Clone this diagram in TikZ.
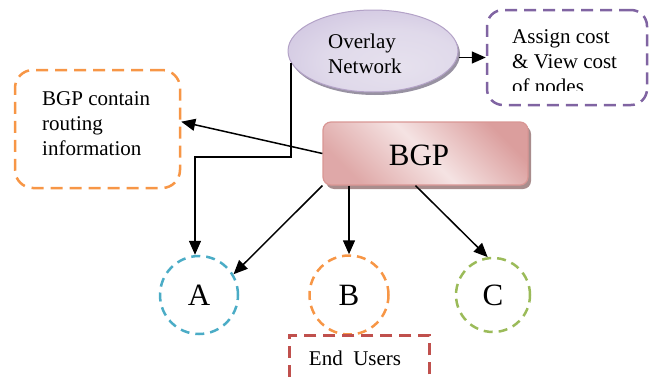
\documentclass[tikz,border=0pt]{standalone}
\usepackage{fontspec}
\setmainfont{Liberation Serif}
\usetikzlibrary{shapes.geometric,arrows.meta,calc}
\definecolor{purp}{HTML}{8064A2}
\definecolor{orng}{HTML}{F79646}
\definecolor{blu}{HTML}{4BACC6}
\definecolor{grn}{HTML}{9BBB59}
\definecolor{redd}{HTML}{C0504D}
\definecolor{ovdark}{HTML}{BDAED5}
\definecolor{ovlight}{HTML}{E6E1EE}
\definecolor{ovborder}{HTML}{B3A2C7}
\definecolor{bgpdark}{HTML}{DB9E9D}
\definecolor{bgplight}{HTML}{F5E3E3}
\definecolor{bgpborder}{HTML}{D99694}
\pgfdeclareradialshading{ovshade}{\pgfpoint{8bp}{-10bp}}{color(0bp)=(ovlight); color(20bp)=(ovlight!85!ovdark); color(55bp)=(ovdark); color(70bp)=(ovdark)}
\begin{document}
\begin{tikzpicture}[x=1pt,y=-1pt,
  arr/.style={line width=1.5pt,-{Triangle[length=14pt,width=12pt]}},
  dsh/.style={line width=2.5pt,dash pattern=on 12pt off 7pt},
  dshc/.style={line width=2.5pt,dash pattern=on 9pt off 6pt},
  small/.style={font=\fontsize{21}{25}\selectfont},
  big/.style={font=\fontsize{31}{36}\selectfont},
  txt/.style={small,align=left,anchor=north west,inner sep=0pt},
]
\useasboundingbox (0,0) rectangle (650,380);

% Overlay network ellipse
\fill[gray!60!ovdark] (375,54) ellipse [x radius=85, y radius=41];
\node[ellipse, minimum width=170pt, minimum height=82pt, draw=ovborder, line width=1pt,
      shading=ovshade] (ov) at (373,51) {};
\node[txt] (ovt) at (328,34) {Overlay\\Network};

% purple box
\node[draw=purp, dsh, rounded corners=16pt, minimum width=160pt, minimum height=95pt] (pb) at (567,57.5) {};
\begin{scope}
  \clip (490,12) rectangle (645,90);
  \node[txt] (pbt) at (512,29) {Assign cost\\\& View cost\\of nodes};
\end{scope}

% orange box
\node[draw=orng, dsh, rounded corners=18pt, minimum width=165pt, minimum height=118pt] (ob) at (97.5,129) {};
\node[txt] (obt) at (42,91.5) {BGP contain\\routing\\information};

% BGP box
\fill[gray!55!bgpdark, rounded corners=8pt] (326,126) rectangle (531,189);
\node[draw=bgpborder, line width=1.2pt, rounded corners=8pt, minimum width=205pt, minimum height=63pt,
      top color=bgpdark, bottom color=bgpdark!85!bgplight, middle color=bgplight, shading angle=-45] (bgp) at (425.5,153.5) {};
\node[big, inner sep=0pt] (bgpt) at (419,155) {BGP};

% circles
\node[circle, draw=blu, dshc, minimum size=78pt, big, inner sep=0pt] (A) at (199,295) {A};
\node[circle, draw=orng, dshc, minimum size=79pt, big, inner sep=0pt] (B) at (349,295) {B};
\node[circle, draw=grn, dshc, minimum size=74pt, big, inner sep=0pt] (C) at (493,295) {C};

% End users
\node[draw=redd, dsh, minimum width=140pt, minimum height=70pt, anchor=north west] (eu) at (288,334) {};
\node[small, inner sep=0pt] (eut) at (355,358.5) {End\ \ Users};

% connectors
\draw[arr] (ov.east |- pb.west) -- (pb.west);
\coordinate (elb) at (288,157);
\draw[arr] (ov.188) -- (ov.188 |- elb) -| ([xshift=-4pt]A.north);
\draw[arr] (bgp.west) -- (ob.5.5);
\draw[arr] (bgp.south west) -- (A.31);
\draw[arr] (B.north |- bgp.south) -- (B.north);
\draw[arr] ([xshift=-10pt]bgp.south) -- (C.98);
\end{tikzpicture}
\end{document}
